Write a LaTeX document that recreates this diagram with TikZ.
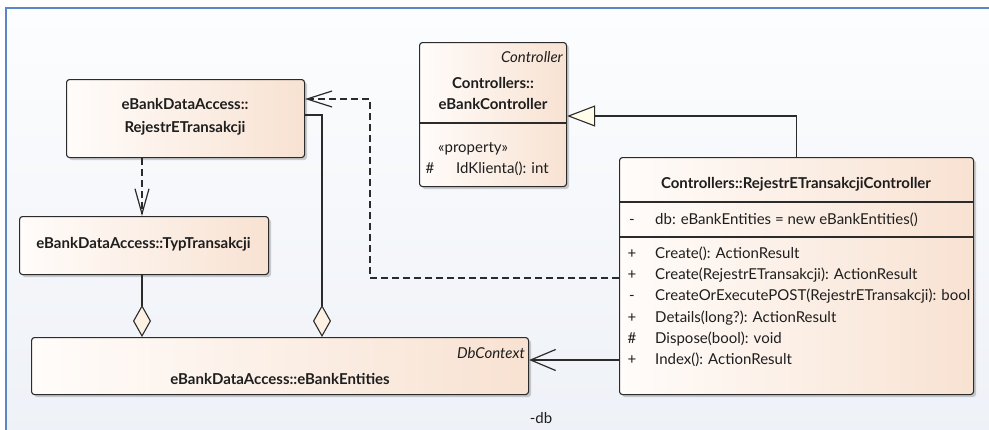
\documentclass[tikz,border=0pt]{standalone}
\usepackage{fontspec}
\setmainfont{Lato}
\usetikzlibrary{arrows.meta,shadows}

\definecolor{bgtop}{HTML}{FCFDFE}
\definecolor{bgbot}{HTML}{EEF1F7}
\definecolor{framecol}{HTML}{5A87C5}
\definecolor{clsleft}{HTML}{FFFCFA}
\definecolor{clsright}{HTML}{F8E2D2}
\definecolor{clsline}{HTML}{2B2B2B}
\definecolor{tipfill}{HTML}{FCF1E2}
\definecolor{genfill}{HTML}{FFFDEA}
\definecolor{ink}{HTML}{1E1E1E}

\newcommand\regsize{\fontsize{15}{17}\selectfont}
\newcommand\boldsize{\fontsize{15}{17}\selectfont\bfseries}

\tikzset{
  cls/.style={draw=clsline, line width=1.1pt, rounded corners=3pt,
    left color=clsleft, right color=clsright, inner sep=0pt,
    anchor=north west,
    drop shadow={shadow xshift=2.5pt, shadow yshift=-2.5pt, opacity=0.18, fill=black}},
  txt/.style={inner sep=0pt, text height=11pt, text depth=0pt, font=\regsize, text=ink},
  bold/.style={txt, font=\boldsize},
  ital/.style={txt, font=\regsize\itshape},
  sepline/.style={draw=clsline, line width=1.1pt},
  conn/.style={draw=clsline, line width=1.2pt},
  dep/.style={conn, dash pattern=on 7pt off 4pt},
  barb/.style={-{Straight Barb[length=25pt, width=#1]}},
  agg/.style={-{Diamond[length=32pt, width=18pt, fill=tipfill, line width=1.1pt]}},
  gen/.style={-{Triangle[length=28pt, width=21pt, fill=genfill, line width=1.1pt]}}
}

\begin{document}
\begin{tikzpicture}[x=1pt, y=-1pt]
\useasboundingbox (0,0) rectangle (989,429);
\clip (0,0) rectangle (989,429);

% diagram canvas
\fill[top color=bgtop, bottom color=bgbot] (6,8) rectangle (1000,440);
\draw[framecol, line width=2pt] (1000,8) -- (6,8) -- (6,440);

% classes
\node[cls, minimum width=238pt, minimum height=78pt] (A) at (66,79) {};
\node[cls, minimum width=249pt, minimum height=58pt] (T) at (19,216) {};
\node[cls, minimum width=497pt, minimum height=57pt] (E) at (31,337) {};
\node[cls, minimum width=147pt, minimum height=144pt] (C) at (419,42) {};
\node[cls, minimum width=354pt, minimum height=237pt] (R) at (619,157) {};

% eBankDataAccess::RejestrETransakcji
\node[bold] (a1) at (185,104) {eBankDataAccess::};
\node[bold] (a2) at (185,127) {RejestrETransakcji};

% eBankDataAccess::TypTransakcji
\node[bold] (t1) at (143.5,243) {eBankDataAccess::TypTransakcji};

% eBankDataAccess::eBankEntities
\node[ital, anchor=east] (e0) at (525,353) {DbContext};
\node[bold] (e1) at (280,379) {eBankDataAccess::eBankEntities};

% Controllers::eBankController
\node[ital, anchor=east] (c0) at (563,57) {Controller};
\node[bold] (c1) at (493,83) {Controllers::};
\node[bold] (c2) at (493,104) {eBankController};
\draw[sepline] (C.west |- 0,123) -- (C.east |- 0,123);
\node[txt, anchor=west] (c3) at (438,147) {«property»};
\node[txt] (c4) at (430,168) {\#};
\node[txt, anchor=west] (c5) at (456,168) {IdKlienta(): int};

% Controllers::RejestrETransakcjiController
\node[bold] (r0) at (796,183) {Controllers::RejestrETransakcjiController};
\draw[sepline] (R.west |- 0,202) -- (R.east |- 0,202);
\node[txt] (rs0) at (632,219) {-};
\node[txt, anchor=west] (rf0) at (655,219) {db: eBankEntities = new eBankEntities()};
\draw[sepline] (R.west |- 0,237) -- (R.east |- 0,237);
\node[txt] (rs1) at (632,253) {+};
\node[txt, anchor=west] (rm1) at (655,253) {Create(): ActionResult};
\node[txt] (rs2) at (632,274) {+};
\node[txt, anchor=west] (rm2) at (655,274) {Create(RejestrETransakcji): ActionResult};
\node[txt] (rs3) at (632,295) {-};
\node[txt, anchor=west] (rm3) at (655,295) {CreateOrExecutePOST(RejestrETransakcji): bool};
\node[txt] (rs4) at (632,317) {+};
\node[txt, anchor=west] (rm4) at (655,317) {Details(long?): ActionResult};
\node[txt] (rs5) at (632,338) {\#};
\node[txt, anchor=west] (rm5) at (655,338) {Dispose(bool): void};
\node[txt] (rs6) at (632,359) {+};
\node[txt, anchor=west] (rm6) at (655,359) {Index(): ActionResult};

% routing points
\coordinate (depx) at (370,0);
\coordinate (depy) at (0,278);
\coordinate (depin) at (0,99);
\coordinate (aggx) at (322,0);
\coordinate (aggy) at (0,115);
\coordinate (assy) at (0,360);
\coordinate (typx) at (142,0);

% dependency RejestrETransakcji -> TypTransakcji
\draw[dep, barb=14pt] (A.south -| typx) -- (T.north -| typx);

% dependency controller -> RejestrETransakcji
\draw[dep, barb=16pt] (R.west |- depy) -| (depx |- depin) -- (A.east |- depin);

% aggregations into eBankEntities
\draw[conn, agg] (T.south -| typx) -- (E.north -| typx);
\draw[conn, agg] (A.east |- aggy) -| (E.north -| aggx);

% generalization controller -> eBankController
\draw[conn, gen] (R.north) |- (C.east |- 0,116);

% association controller -> eBankEntities
\draw[conn, barb=21pt] (R.west |- assy) -- (E.east |- assy);
\node[txt] (db) at (541,418) {-db};
\end{tikzpicture}
\end{document}
